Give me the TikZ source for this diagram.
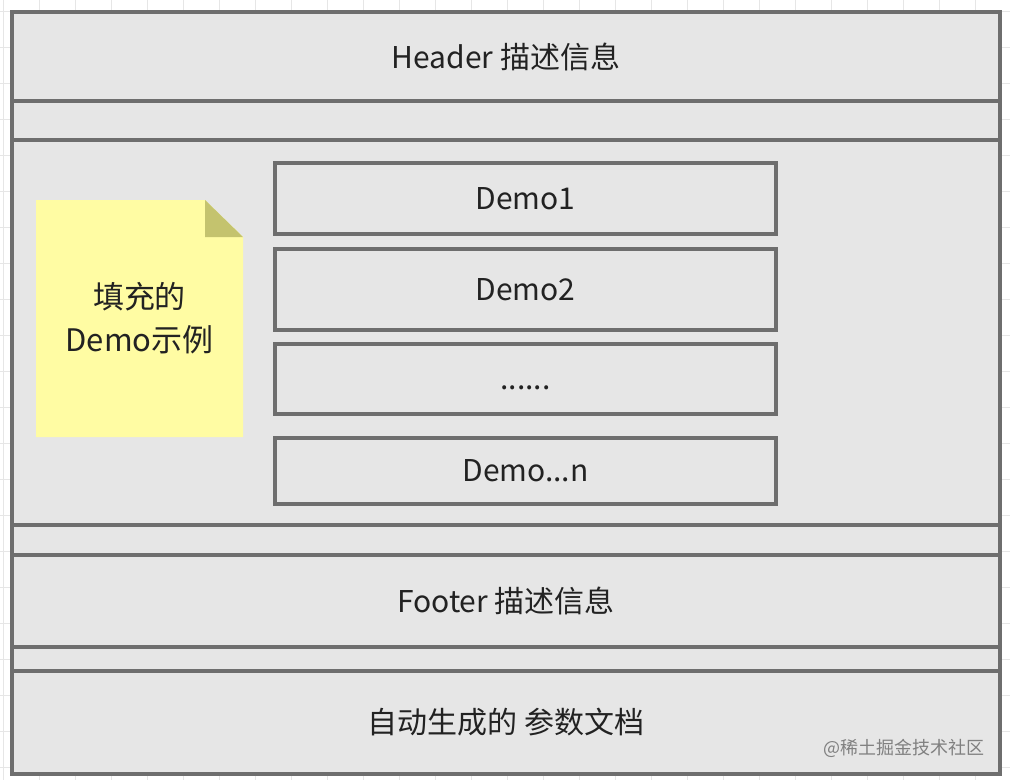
\documentclass[tikz,border=0pt]{standalone}
\usepackage{fontspec}
\setmainfont{Noto Sans CJK SC}
\usetikzlibrary{positioning}
\definecolor{framegray}{HTML}{6E6E6E}
\definecolor{bandfill}{HTML}{E6E6E6}
\definecolor{textgray}{HTML}{222222}
\definecolor{gridgray}{HTML}{E6E6E6}
\definecolor{noteyellow}{HTML}{FFFCA3}
\definecolor{notefold}{HTML}{C4C36E}

\begin{document}
\begin{tikzpicture}[x=1pt,y=-1pt,line width=4pt]
\tikzstyle{band}=[draw=framegray,fill=bandfill,text=textgray,minimum width=988pt,inner sep=0pt,outer sep=0pt]
\tikzstyle{demo}=[draw=framegray,fill=bandfill,text=textgray,minimum width=501pt,inner sep=0pt,text height=21pt,text depth=0pt]
\tikzset{font=\fontsize{30pt}{36pt}\selectfont}

        \useasboundingbox (0,0) rectangle (1010,780);

        % background grid
        \foreach \gx in {3,39,...,1010}
            \draw[gridgray,line width=1pt] (\gx,0) -- (\gx,780);
        \foreach \gy in {11,47,...,780}
            \draw[gridgray,line width=1pt] (0,\gy) -- (1010,\gy);

        % page bands
        \node[band,minimum height=89pt]    (header) at (506,56.5)  {Header 描述信息};
        \node[band,minimum height=39pt]    (gapA)   at (506,120.5) {};
        \node[band,minimum height=385pt]   (body)   at (506,332.5) {};
        \node[band,minimum height=30pt]    (gapB)   at (506,540)   {};
        \node[band,minimum height=92pt]    (footer) at (506,601)   {Footer 描述信息};
        \node[band,minimum height=24pt]    (gapC)   at (506,659)   {};
        \node[band,minimum height=103pt]   (params) at (506,722.5) {自动生成的 参数文档};

        % demo list
        \node[demo,minimum height=71pt]    (demo1)  at (525.5,198.5) {Demo1};
        \node[demo,minimum height=81pt]    (demo2)  at (525.5,289.5) {Demo2};
        \node[demo,minimum height=70pt]    (dots)   at (525.5,379)   {......};
        \node[demo,minimum height=66pt]    (demon)  at (525.5,471)   {Demo...n};

        % note
        \fill[noteyellow] (36,200) -- (205,200) -- (243,237) -- (243,437) -- (36,437) -- cycle;
        \fill[notefold] (205,200) -- (243,237) -- (205,237) -- cycle;
        \node[align=center,text=textgray,font=\fontsize{31pt}{43pt}\selectfont] (note) at (139.5,318) {填充的\\Demo示例};

        \node[anchor=east,text=gray,font=\fontsize{18pt}{20pt}\selectfont] (mark) at (990,748) {@稀土掘金技术社区};

\end{tikzpicture}
\end{document}
